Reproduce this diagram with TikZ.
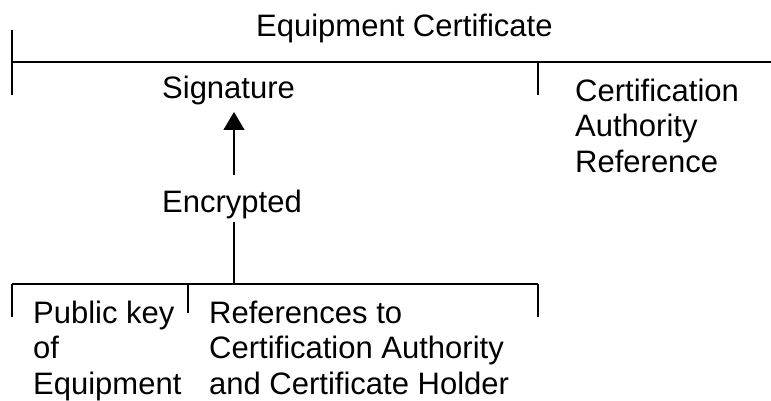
\documentclass[tikz,border=0pt]{standalone}
\usepackage{fontspec}
\setmainfont{Liberation Sans}
\usetikzlibrary{arrows.meta}
\tikzset{
  lbl/.style={anchor=base west, inner sep=0pt, font=\fontsize{31}{35.5}\selectfont, align=left},
  rule/.style={line width=1.3pt, line cap=butt},
  upar/.style={rule, -{Triangle[width=21pt,length=18pt]}}
}
\begin{document}
\begin{tikzpicture}[x=1pt,y=-1pt]
\useasboundingbox (0,0) rectangle (771,401);
% texts (base = baseline of the last line)
\node[lbl] (ec) at (256,37) {Equipment Certificate};
\node[lbl] (sig) at (162,99) {Signature};
\node[lbl] (car) at (575,172) {Certification\\Authority\\Reference};
\node[lbl] (enc) at (162,212) {Encrypted};
\node[lbl] (pk) at (33,394) {Public key\\of\\Equipment};
\node[lbl] (ref) at (209,394) {References to\\Certification Authority\\and Certificate Holder};
% named points
\coordinate (tl0) at (12,30);
\coordinate (tl1) at (12,95);
\coordinate (th0) at (12,62);
\coordinate (th1) at (771,62);
\coordinate (tt0) at (538,62);
\coordinate (tt1) at (538,95);
\coordinate (arB) at (234,175);
\coordinate (arT) at (234,112);
\coordinate (ev0) at (234,222);
\coordinate (ev1) at (234,284);
\coordinate (bh0) at (12,284);
\coordinate (bh1) at (538,284);
\coordinate (bl1) at (12,317);
\coordinate (bm0) at (188,284);
\coordinate (bm1) at (188,313);
\coordinate (br1) at (538,317);
% top bracket
\draw[rule] (tl0) -- (tl1);
\draw[rule] (th0) -- (th1);
\draw[rule] (tt0) -- (tt1);
% arrow
\draw[upar] (arB) -- (arT);
% bottom bracket
\draw[rule] (ev0) -- (ev1);
\draw[rule] (bh0) -- (bh1);
\draw[rule] (bh0) -- (bl1);
\draw[rule] (bm0) -- (bm1);
\draw[rule] (bh1) -- (br1);
\end{tikzpicture}
\end{document}
